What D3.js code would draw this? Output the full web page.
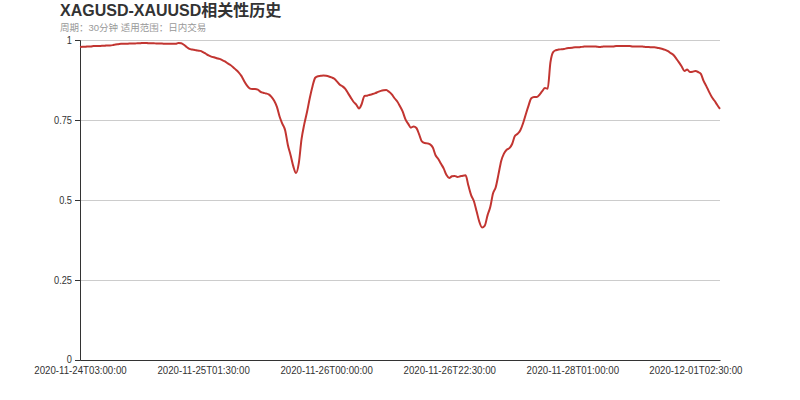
<!DOCTYPE html>
<html><head><meta charset="utf-8">
<script src="https://cdn.jsdelivr.net/npm/d3@7"></script>
<style>body{margin:0;background:#fff;} svg{display:block;font-family:"Liberation Sans",Arial,"Noto Sans CJK SC",sans-serif;}</style>
</head><body>
<svg id="c" width="800" height="400"></svg>
<script>
const title = "XAGUSD-XAUUSD相关性历史";
const subtitle = "周期：30分钟 适用范围：日内交易";
const tickLabels = ["2020-11-24T03:00:00","2020-11-25T01:30:00","2020-11-26T00:00:00","2020-11-26T22:30:00","2020-11-28T01:00:00","2020-12-01T02:30:00"];
const tickIndex = [0,45,90,135,180,225];
const yTicks = [0,0.25,0.5,0.75,1];
const values = [
0.978,0.979,0.979,0.980,0.980,0.981,0.981,0.981,0.982,0.982,
0.983,0.983,0.984,0.986,0.987,0.988,0.988,0.988,0.989,0.989,
0.989,0.990,0.990,0.991,0.991,0.990,0.990,0.990,0.989,0.989,
0.989,0.988,0.988,0.988,0.988,0.988,0.991,0.990,0.985,0.978,
0.972,0.970,0.969,0.967,0.966,0.962,0.957,0.952,0.948,0.946,
0.943,0.941,0.937,0.933,0.927,0.922,0.915,0.907,0.899,0.888,
0.872,0.858,0.849,0.847,0.847,0.845,0.838,0.835,0.833,0.830,
0.822,0.810,0.791,0.760,0.738,0.718,0.672,0.640,0.605,0.584,
0.615,0.690,0.737,0.775,0.818,0.855,0.882,0.887,0.888,0.889,
0.888,0.886,0.883,0.879,0.870,0.860,0.855,0.847,0.834,0.820,
0.807,0.798,0.786,0.800,0.825,0.826,0.829,0.831,0.834,0.838,
0.841,0.843,0.844,0.838,0.830,0.818,0.808,0.793,0.776,0.752,
0.738,0.726,0.730,0.725,0.705,0.683,0.678,0.677,0.674,0.664,
0.640,0.628,0.613,0.598,0.578,0.569,0.574,0.575,0.572,0.574,
0.576,0.577,0.545,0.515,0.497,0.465,0.432,0.414,0.420,0.452,
0.478,0.520,0.540,0.580,0.622,0.645,0.657,0.662,0.675,0.700,
0.707,0.718,0.740,0.768,0.795,0.818,0.822,0.822,0.829,0.840,
0.850,0.848,0.930,0.962,0.968,0.970,0.971,0.972,0.974,0.975,
0.976,0.977,0.977,0.978,0.979,0.980,0.980,0.980,0.980,0.979,
0.978,0.979,0.980,0.980,0.980,0.980,0.981,0.981,0.981,0.981,
0.981,0.981,0.980,0.980,0.980,0.980,0.979,0.978,0.978,0.977,
0.977,0.976,0.974,0.972,0.969,0.965,0.959,0.953,0.942,0.930,
0.917,0.903,0.908,0.900,0.901,0.903,0.900,0.894,0.872,0.856,
0.838,0.822,0.810,0.797,0.785
];

const svg = d3.select("#c");
const m = {left:80, right:80, top:40, bottom:40};
const W = 800, H = 400;
const x = d3.scaleLinear().domain([0, values.length-1]).range([m.left, W-m.right]);
const y = d3.scaleLinear().domain([0,1]).range([H-m.bottom, m.top]);
const narrow = 0.88; // reference axis font is condensed

function condense(sel){
  sel.each(function(){
    const w = this.getComputedTextLength();
    d3.select(this).attr("textLength", w*narrow).attr("lengthAdjust","spacingAndGlyphs");
  });
}

svg.append("text").attr("x",60).attr("y",16).attr("font-size",16).attr("font-weight","bold").attr("fill","#333").text(title);
svg.append("text").attr("x",60).attr("y",31).attr("font-size",9.5).attr("fill","#999").text(subtitle);

// grid
svg.append("g").selectAll("line").data(yTicks.filter(d=>d>0)).join("line")
  .attr("x1",m.left).attr("x2",W-m.right).attr("y1",d=>y(d)).attr("y2",d=>y(d))
  .attr("stroke","#ccc").attr("stroke-width",1).attr("shape-rendering","crispEdges");

// y axis
const ya = svg.append("g").attr("transform",`translate(${m.left},0)`)
  .call(d3.axisLeft(y).tickValues(yTicks).tickFormat(d=>String(d)).tickSize(5).tickPadding(3));
ya.select(".domain").attr("stroke","#333");
ya.selectAll(".tick line").attr("stroke","#333");
ya.selectAll("text").attr("font-size",10.5).attr("fill","#333").attr("font-family",null).call(condense);
ya.selectAll(".tick").filter(d=>d===0).select("text").attr("dy","0.2em");

// x axis
const xa = svg.append("g").attr("transform",`translate(0,${H-m.bottom})`)
  .call(d3.axisBottom(x).tickValues(tickIndex).tickFormat((d,i)=>tickLabels[i]).tickSize(0).tickPadding(6).tickSizeOuter(0));
xa.select(".domain").attr("stroke","#333");
xa.selectAll("text").attr("font-size",11).attr("fill","#333").attr("font-family",null).call(condense);

svg.append("path").datum(values)
  .attr("fill","none").attr("stroke","#c23531").attr("stroke-width",2).attr("stroke-linejoin","round")
  .attr("d", d3.line().x((d,i)=>x(i)).y(d=>y(d)).curve(d3.curveMonotoneX));
</script>
</body></html>
